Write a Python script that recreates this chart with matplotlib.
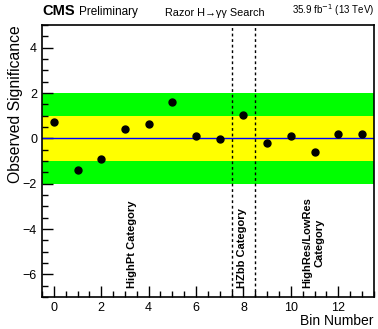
import matplotlib
matplotlib.use("Agg")
import matplotlib.pyplot as plt
from matplotlib.ticker import MultipleLocator

plt.rcParams['font.family'] = ['Liberation Sans', 'DejaVu Sans']

bins = list(range(14))
significance = [0.71, -1.41, -0.91, 0.40, 0.62, 1.61, 0.10, -0.02, 1.02, -0.19, 0.10, -0.60, 0.20, 0.20]
boundaries = [7.5, 8.5]
cat_labels = ["HighPt Category", "HZbb Category", "HighRes/LowRes\nCategory"]
cat_x = [3.3, 7.95, 10.95]

fig = plt.figure(figsize=(3.78, 3.29), dpi=100)
ax = fig.add_axes([0.111, 0.097, 0.878, 0.827])
ax.set_xlim(-0.5, 13.5)
ax.set_ylim(-7, 5)

ax.axhspan(-2, 2, color='#00ff00', zorder=0, lw=0)
ax.axhspan(-1, 1, color='#ffff00', zorder=1, lw=0)
ax.axhline(0, color='#0000ff', lw=1.0, zorder=2)
for b in boundaries:
    ax.axvline(b, color='black', ls=(0, (2, 2)), lw=1.0, zorder=3)
ax.plot(bins, significance, 'o', color='black', ms=5, zorder=4)

for x, t in zip(cat_x, cat_labels):
    ax.text(x, -6.6, t, rotation=90, ha='center', va='bottom', fontsize=8,
            fontweight='bold', multialignment='center')

ax.xaxis.set_major_locator(MultipleLocator(2))
ax.xaxis.set_minor_locator(MultipleLocator(0.5))
ax.yaxis.set_major_locator(MultipleLocator(2))
ax.yaxis.set_minor_locator(MultipleLocator(0.5))
ax.tick_params(which='both', direction='in', top=False, right=False, labelsize=9, width=1)
ax.tick_params(which='major', length=8)
ax.tick_params(which='minor', length=4)
for s in ax.spines.values():
    s.set_linewidth(1.2)

fig.text(0.989, 0.004, "Bin Number", ha='right', va='bottom', fontsize=10)
fig.text(0.04, 0.684, "Observed Significance", rotation=90, ha='center', va='center', fontsize=11.3)

fig.text(0.111, 0.945, "CMS", fontweight='bold', fontsize=10.5, ha='left', va='bottom')
fig.text(0.21, 0.945, "Preliminary", fontsize=8.5, ha='left', va='bottom')
fig.text(0.436, 0.945, "Razor H\u2192\u03b3\u03b3 Search", fontsize=7.8, ha='left', va='bottom')
fig.text(0.989, 0.945, r"35.9 fb$^{-1}$ (13 TeV)", fontsize=7, ha='right', va='bottom')

fig.savefig("out.png", dpi=100)
